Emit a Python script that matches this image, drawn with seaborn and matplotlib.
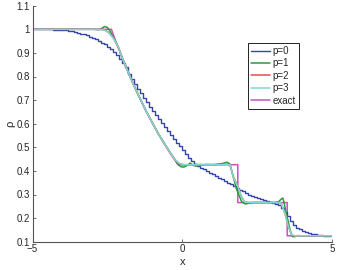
import numpy as np
import pandas as pd
import matplotlib
matplotlib.use("Agg")
import matplotlib.pyplot as plt
import seaborn as sns

# ---------------- data ----------------
# p=0 : cell averages, 100 cells on [-5, 5]
p0_x = [round(-4.95 + 0.1 * i, 2) for i in range(100)]
p0_rho = [
    1.000, 1.000, 1.000, 1.000, 1.000, 1.000, 1.000, 0.999, 0.999, 0.998,
    0.997, 0.995, 0.993, 0.991, 0.988, 0.985, 0.982, 0.978, 0.974, 0.969,
    0.964, 0.958, 0.951, 0.944, 0.936, 0.927, 0.916, 0.903, 0.889, 0.873,
    0.857, 0.840, 0.812, 0.790, 0.768, 0.748, 0.728, 0.708, 0.690, 0.672,
    0.655, 0.638, 0.620, 0.603, 0.586, 0.569, 0.552, 0.536, 0.520, 0.504,
    0.489, 0.470, 0.456, 0.443, 0.431, 0.421, 0.413, 0.406, 0.399, 0.392,
    0.385, 0.378, 0.371, 0.364, 0.357, 0.350, 0.343, 0.336, 0.328, 0.321,
    0.314, 0.307, 0.300, 0.295, 0.290, 0.286, 0.282, 0.278, 0.274, 0.270,
    0.266, 0.261, 0.254, 0.243, 0.226, 0.207, 0.188, 0.172, 0.160, 0.152,
    0.146, 0.141, 0.137, 0.134, 0.131, 0.129, 0.127, 0.126, 0.125, 0.125,
]

p1_x = [-5.0, -2.95, -2.8, -2.7, -2.6, -2.5, -2.4, -2.3, -2.15, -2.0, -1.6, -1.2,
        -0.8, -0.4, -0.25, -0.15, -0.05, 0.05, 0.15, 0.26, 0.35, 0.45, 0.6, 0.8,
        1.1, 1.37, 1.5, 1.58, 1.65, 1.82, 1.98, 2.1, 2.2, 2.4, 3.1, 3.22, 3.3,
        3.36, 3.4, 3.47, 3.54, 3.6, 3.68, 3.75, 3.85, 4.0, 5.0]
p1_rho = [1.0, 1.0, 0.998, 1.002, 1.012, 1.008, 0.99, 0.965, 0.928, 0.878, 0.758,
          0.652, 0.558, 0.477, 0.45, 0.428, 0.418, 0.416, 0.422, 0.433, 0.425,
          0.42, 0.424, 0.427, 0.427, 0.432, 0.437, 0.43, 0.40, 0.32, 0.27, 0.26,
          0.262, 0.266, 0.266, 0.27, 0.28, 0.285, 0.265, 0.22, 0.185, 0.15,
          0.122, 0.121, 0.126, 0.125, 0.125]

p2_x = [-5.0, -2.8, -2.6, -2.45, -2.3, -2.15, -2.0, -1.6, -1.2, -0.8, -0.4,
        -0.25, -0.1, 0.05, 0.5, 1.0, 1.5, 1.6, 1.7, 1.87, 1.98, 2.09, 2.2, 3.2,
        3.29, 3.43, 3.54, 3.65, 3.75, 5.0]
p2_rho = [1.0, 1.0, 0.998, 0.986, 0.963, 0.93, 0.877, 0.758, 0.651, 0.557,
          0.476, 0.448, 0.431, 0.425, 0.427, 0.426, 0.428, 0.426, 0.377, 0.33,
          0.29, 0.267, 0.266, 0.266, 0.266, 0.221, 0.164, 0.129, 0.125, 0.125]

p3_x = [-5.0, -2.8, -2.6, -2.45, -2.3, -2.15, -2.0, -1.6, -1.2, -0.8, -0.4, -0.25,
        -0.1, 0.05, 0.5, 1.0, 1.5, 1.6, 1.7, 1.87, 1.98, 2.09, 2.2, 3.2, 3.29,
        3.43, 3.54, 3.65, 3.75, 5.0]
p3_rho = [1.0, 1.0, 0.997, 0.985, 0.962, 0.93, 0.877, 0.758, 0.651, 0.557, 0.476,
          0.448, 0.432, 0.426, 0.426, 0.426, 0.427, 0.425, 0.375, 0.33, 0.29,
          0.268, 0.266, 0.266, 0.265, 0.222, 0.165, 0.13, 0.125, 0.125]

exact_x = [-5.0, -2.366, -2.2, -2.0, -1.8, -1.6, -1.4, -1.2, -1.0, -0.8, -0.6,
           -0.4, -0.3, -0.14, 1.855, 1.855, 3.504, 3.504, 5.0]
exact_rho = [1.0, 1.0, 0.9427, 0.8773, 0.8158, 0.7577, 0.7030, 0.6514, 0.6029,
             0.5574, 0.5146, 0.4745, 0.4555, 0.4263, 0.4263, 0.2656, 0.2656,
             0.125, 0.125]

series_names = ["p=0", "p=1", "p=2", "p=3", "exact"]
x_ticks = [-5, 0, 5]
y_ticks = [0.1, 0.2, 0.3, 0.4, 0.5, 0.6, 0.7, 0.8, 0.9, 1.0, 1.1]
y_tick_labels = ["0.1", "0.2", "0.3", "0.4", "0.5", "0.6", "0.7", "0.8", "0.9", "1", "1.1"]

# ---------------- style ----------------
sns.set_style("ticks")
plt.rcParams["font.family"] = ["Liberation Sans", "DejaVu Sans"]
plt.rcParams["xtick.direction"] = "in"
plt.rcParams["ytick.direction"] = "in"

colors = {
    "p=0": "#3546a8",
    "p=1": "#2e9a3c",
    "p=2": "#d9534f",
    "p=3": "#7fd8d4",
    "exact": "#c653c0",
}

fig = plt.figure(figsize=(3.37, 2.70), dpi=100)
ax = fig.add_axes([32.5 / 337, 1 - 241.7 / 270, 299.5 / 337, 236 / 270])

lw = 1.1
sns.lineplot(x=p0_x, y=p0_rho, ax=ax, color=colors["p=0"], lw=1.0,
             drawstyle="steps-mid", estimator=None, sort=False, label="p=0")
sns.lineplot(x=p1_x, y=p1_rho, ax=ax, color=colors["p=1"], lw=lw,
             estimator=None, sort=False, label="p=1")
sns.lineplot(x=p2_x, y=p2_rho, ax=ax, color=colors["p=2"], lw=lw,
             estimator=None, sort=False, label="p=2")
sns.lineplot(x=exact_x, y=exact_rho, ax=ax, color=colors["exact"], lw=lw,
             estimator=None, sort=False, label="exact", zorder=1.5)
sns.lineplot(x=p3_x, y=p3_rho, ax=ax, color=colors["p=3"], lw=lw,
             estimator=None, sort=False, label="p=3")

ax.set_xlim(-5, 5)
ax.set_ylim(0.1, 1.1)
ax.set_xticks(x_ticks)
ax.set_xticklabels(["\u22125", "0", "5"])
ax.set_yticks(y_ticks)
ax.set_yticklabels(y_tick_labels)
ax.tick_params(labelsize=7, length=2.5, width=0.6, colors="#555555",
               labelcolor="#262626", pad=2)
for side in ["top", "right"]:
    ax.spines[side].set_visible(False)
for side in ["left", "bottom"]:
    ax.spines[side].set_color("#555555")
    ax.spines[side].set_linewidth(0.8)

ax.set_xlabel("x", fontsize=8, color="#262626", labelpad=2)
ax.set_ylabel("\u03c1", fontsize=8, color="#262626", labelpad=1)

handles, labels = ax.get_legend_handles_labels()
order = [labels.index(n) for n in series_names]
leg = ax.legend([handles[i] for i in order], [labels[i] for i in order],
                loc="upper right", bbox_to_anchor=(0.890, 0.842),
                fontsize=7, frameon=True, fancybox=False, framealpha=1,
                edgecolor="#222222", handlelength=2.0, handletextpad=0.3,
                labelspacing=0.25, borderpad=0.3, borderaxespad=0.0)
leg.get_frame().set_linewidth(0.7)

fig.savefig("out.png", dpi=100)
